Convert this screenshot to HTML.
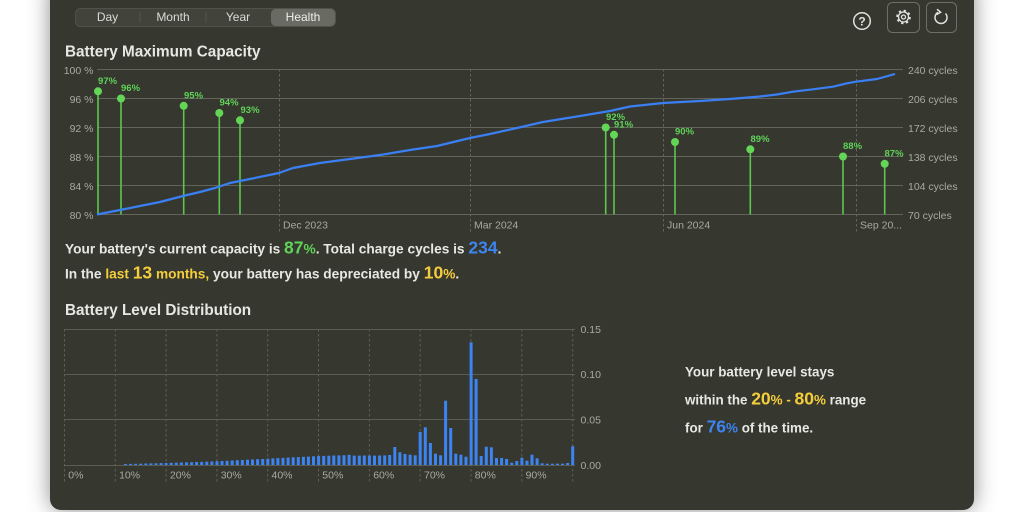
<!DOCTYPE html>
<html><head><meta charset="utf-8">
<style>
html,body{margin:0;padding:0;background:#fff;width:1024px;height:512px;overflow:hidden}
.win{position:absolute;left:50px;top:-20px;width:924px;height:530px;background:#36372e;border-radius:11px;box-shadow:0 0 22px rgba(0,0,0,0.45)}
svg{position:absolute;left:0;top:0}
text{font-family:"Liberation Sans",Arial,sans-serif}
</style></head><body>
<div class="win"></div>
<svg width="1024" height="512" viewBox="0 0 1024 512" xmlns="http://www.w3.org/2000/svg">
<!-- segmented control -->
<rect x="75.5" y="8.5" width="260" height="18" rx="5" fill="#42433a" stroke="#505148"/>
<line x1="140" y1="12" x2="140" y2="23" stroke="#55564d"/>
<line x1="206" y1="12" x2="206" y2="23" stroke="#55564d"/>
<rect x="271" y="9" width="64" height="17" rx="4.5" fill="#696a62"/>
<g font-size="12" fill="#dcdcd6" text-anchor="middle">
<text x="107.5" y="21">Day</text>
<text x="173" y="21">Month</text>
<text x="238" y="21">Year</text>
<text x="303" y="21" fill="#eeeeea">Health</text>
</g>
<!-- icons -->
<circle cx="862" cy="21" r="8.3" fill="none" stroke="#e2e2dc" stroke-width="1.5"/>
<text x="862" y="25.5" font-size="12" font-weight="bold" fill="#e2e2dc" text-anchor="middle">?</text>
<rect x="887.5" y="2.5" width="32" height="30" rx="5" fill="none" stroke="#6e6f66"/>
<rect x="926.5" y="2.5" width="30" height="30" rx="5" fill="none" stroke="#6e6f66"/>
<circle cx="903.5" cy="17" r="6" fill="none" stroke="#e2e2dc" stroke-width="2.6" stroke-dasharray="2.2 2.5"/>
<circle cx="903.5" cy="17" r="5" fill="none" stroke="#e2e2dc" stroke-width="1.3"/>
<circle cx="903.5" cy="17" r="2" fill="none" stroke="#e2e2dc" stroke-width="1.3"/>
<path d="M945.5 13.5 A6 6 0 1 1 938 12.3" fill="none" stroke="#e2e2dc" stroke-width="1.5"/>
<path d="M937 9.2 L940.6 12.3 L936.6 14.6" fill="none" stroke="#e2e2dc" stroke-width="1.5"/>

<!-- Title 1 -->
<text x="65" y="56.5" font-size="15.3" font-weight="bold" fill="#e8e8e3">Battery Maximum Capacity</text>

<!-- top chart grid -->
<g stroke="#62635a" stroke-width="1">
<line x1="97" y1="69.5" x2="903" y2="69.5"/>
<line x1="97" y1="98.5" x2="903" y2="98.5"/>
<line x1="97" y1="127.5" x2="903" y2="127.5"/>
<line x1="97" y1="156.5" x2="903" y2="156.5"/>
<line x1="97" y1="185.5" x2="903" y2="185.5"/>
<line x1="97" y1="214.5" x2="903" y2="214.5"/>
</g>
<g stroke="#64655c" stroke-width="1" stroke-dasharray="2.5 2.5">
<line x1="279.5" y1="69" x2="279.5" y2="232"/>
<line x1="470.5" y1="69" x2="470.5" y2="232"/>
<line x1="663.5" y1="69" x2="663.5" y2="232"/>
<line x1="856.5" y1="69" x2="856.5" y2="232"/>
</g>
<g font-size="10.5" fill="#a9aaa1" text-anchor="end">
<text x="93.5" y="74">100 %</text>
<text x="93.5" y="103">96 %</text>
<text x="93.5" y="132">92 %</text>
<text x="93.5" y="161">88 %</text>
<text x="93.5" y="190">84 %</text>
<text x="93.5" y="219">80 %</text>
</g>
<g font-size="10.5" fill="#a9aaa1">
<text x="908" y="74">240 cycles</text>
<text x="908" y="103">206 cycles</text>
<text x="908" y="132">172 cycles</text>
<text x="908" y="161">138 cycles</text>
<text x="908" y="190">104 cycles</text>
<text x="908" y="219">70 cycles</text>
<text x="283" y="228.5">Dec 2023</text>
<text x="474" y="228.5">Mar 2024</text>
<text x="667" y="228.5">Jun 2024</text>
<text x="860" y="228.5">Sep 20...</text>
</g>

<!-- green stems -->
<g stroke="#5cc650" stroke-width="1.6">
<line x1="98" y1="91.3" x2="98" y2="214.5"/>
<line x1="121" y1="98.5" x2="121" y2="214.5"/>
<line x1="183.7" y1="105.8" x2="183.7" y2="214.5"/>
<line x1="219.3" y1="113" x2="219.3" y2="214.5"/>
<line x1="240" y1="120.3" x2="240" y2="214.5"/>
<line x1="605.7" y1="127.5" x2="605.7" y2="214.5"/>
<line x1="614" y1="134.8" x2="614" y2="214.5"/>
<line x1="675" y1="142" x2="675" y2="214.5"/>
<line x1="750.3" y1="149.3" x2="750.3" y2="214.5"/>
<line x1="843" y1="156.5" x2="843" y2="214.5"/>
<line x1="884.7" y1="163.8" x2="884.7" y2="214.5"/>
</g>

<!-- blue line -->
<polyline fill="none" stroke="#3a80f4" stroke-width="2.2" stroke-linejoin="round" points="97,214.5 120,210 140,206 160,202 183,196 200,192 215,188 230,183 250,179 279,173 293,168 320,163 350,159 380,155 410,150 437,146 470,138 490,134 517,128 543,122 580,116 610,111 630,106.5 663,103 700,101 730,99 760,96.5 777,94.5 793,91.7 813,89.3 833,86.7 847,83.3 856,81.7 877,79 895,74"/>

<g fill="#64d657">
<circle cx="98" cy="91.3" r="4"/>
<circle cx="121" cy="98.5" r="4"/>
<circle cx="183.7" cy="105.8" r="4"/>
<circle cx="219.3" cy="113" r="4"/>
<circle cx="240" cy="120.3" r="4"/>
<circle cx="605.7" cy="127.5" r="4"/>
<circle cx="614" cy="134.8" r="4"/>
<circle cx="675" cy="142" r="4"/>
<circle cx="750.3" cy="149.3" r="4"/>
<circle cx="843" cy="156.5" r="4"/>
<circle cx="884.7" cy="163.8" r="4"/>
</g>
<g font-size="9.5" font-weight="bold" fill="#5fd35a">
<text x="98" y="84">97%</text>
<text x="121" y="91">96%</text>
<text x="184" y="98.5">95%</text>
<text x="219.5" y="105.5">94%</text>
<text x="240.5" y="113">93%</text>
<text x="606" y="120">92%</text>
<text x="614" y="127.5">91%</text>
<text x="675" y="134.5">90%</text>
<text x="750.5" y="142">89%</text>
<text x="843" y="149">88%</text>
<text x="884.5" y="156.5">87%</text>
</g>

<!-- summary text -->
<g font-size="13.7" font-weight="bold" fill="#e8e8e3">
<text x="65" y="253.5">Your battery's current capacity is <tspan fill="#5fd35a" font-size="17.5">87</tspan><tspan fill="#5fd35a">%</tspan>. Total charge cycles is <tspan fill="#3d85f2" font-size="17.5">234</tspan>.</text>
<text x="65" y="278.5">In the <tspan fill="#f4cd3c">last </tspan><tspan fill="#f4cd3c" font-size="17.5">13</tspan><tspan fill="#f4cd3c"> months,</tspan> your battery has depreciated by <tspan fill="#f4cd3c" font-size="17.5">10</tspan><tspan fill="#f4cd3c">%</tspan>.</text>
</g>
<text x="65" y="315" font-size="15.3" font-weight="bold" fill="#e8e8e3">Battery Level Distribution</text>

<!-- bottom chart grid -->
<g stroke="#5b5c53" stroke-width="1">
<line x1="64" y1="329.5" x2="575" y2="329.5"/>
<line x1="64" y1="374.5" x2="575" y2="374.5"/>
<line x1="64" y1="419.5" x2="575" y2="419.5"/>
<line x1="64" y1="465.5" x2="575" y2="465.5"/>
</g>
<g stroke="#5f6057" stroke-width="1" stroke-dasharray="2.5 2.5">
<line x1="64.5" y1="329" x2="64.5" y2="482"/>
<line x1="115.3" y1="329" x2="115.3" y2="482"/>
<line x1="166.1" y1="329" x2="166.1" y2="482"/>
<line x1="216.9" y1="329" x2="216.9" y2="482"/>
<line x1="267.7" y1="329" x2="267.7" y2="482"/>
<line x1="318.5" y1="329" x2="318.5" y2="482"/>
<line x1="369.4" y1="329" x2="369.4" y2="482"/>
<line x1="420.2" y1="329" x2="420.2" y2="482"/>
<line x1="471" y1="329" x2="471" y2="482"/>
<line x1="521.8" y1="329" x2="521.8" y2="482"/>
<line x1="572.7" y1="329" x2="572.7" y2="482"/>
</g>
<g font-size="10.5" fill="#a9aaa1">
<text x="580.5" y="333">0.15</text>
<text x="580.5" y="378">0.10</text>
<text x="580.5" y="423.5">0.05</text>
<text x="580.5" y="469">0.00</text>
<text x="68.3" y="478.5">0%</text>
<text x="119.1" y="478.5">10%</text>
<text x="169.9" y="478.5">20%</text>
<text x="220.7" y="478.5">30%</text>
<text x="271.5" y="478.5">40%</text>
<text x="322.3" y="478.5">50%</text>
<text x="373.2" y="478.5">60%</text>
<text x="424" y="478.5">70%</text>
<text x="474.8" y="478.5">80%</text>
<text x="525.6" y="478.5">90%</text>
</g>

<!-- bars -->
<g fill="#3d84f3">
<rect x="124.0" y="464.0" width="3" height="1.0"/>
<rect x="129.1" y="463.9" width="3" height="1.1"/>
<rect x="134.1" y="463.8" width="3" height="1.2"/>
<rect x="139.2" y="463.7" width="3" height="1.3"/>
<rect x="144.3" y="463.5" width="3" height="1.5"/>
<rect x="149.4" y="463.4" width="3" height="1.6"/>
<rect x="154.5" y="463.3" width="3" height="1.7"/>
<rect x="159.6" y="463.1" width="3" height="1.9"/>
<rect x="164.6" y="463.0" width="3" height="2.0"/>
<rect x="169.7" y="462.8" width="3" height="2.2"/>
<rect x="174.8" y="462.7" width="3" height="2.3"/>
<rect x="179.9" y="462.5" width="3" height="2.5"/>
<rect x="185.0" y="462.4" width="3" height="2.6"/>
<rect x="190.1" y="462.2" width="3" height="2.8"/>
<rect x="195.1" y="462.0" width="3" height="3.0"/>
<rect x="200.2" y="461.9" width="3" height="3.1"/>
<rect x="205.3" y="461.7" width="3" height="3.3"/>
<rect x="210.4" y="461.5" width="3" height="3.5"/>
<rect x="215.5" y="461.3" width="3" height="3.7"/>
<rect x="220.5" y="461.0" width="3" height="4.0"/>
<rect x="225.6" y="460.8" width="3" height="4.2"/>
<rect x="230.7" y="460.5" width="3" height="4.5"/>
<rect x="235.8" y="460.2" width="3" height="4.8"/>
<rect x="240.9" y="460.0" width="3" height="5.0"/>
<rect x="246.0" y="459.7" width="3" height="5.3"/>
<rect x="251.0" y="459.5" width="3" height="5.5"/>
<rect x="256.1" y="459.2" width="3" height="5.8"/>
<rect x="261.2" y="459.0" width="3" height="6.0"/>
<rect x="266.3" y="458.7" width="3" height="6.3"/>
<rect x="271.4" y="458.4" width="3" height="6.6"/>
<rect x="276.4" y="458.1" width="3" height="6.9"/>
<rect x="281.5" y="457.9" width="3" height="7.1"/>
<rect x="286.6" y="457.6" width="3" height="7.4"/>
<rect x="291.7" y="457.3" width="3" height="7.7"/>
<rect x="296.8" y="457.1" width="3" height="7.9"/>
<rect x="301.9" y="456.8" width="3" height="8.2"/>
<rect x="306.9" y="456.6" width="3" height="8.4"/>
<rect x="312.0" y="456.3" width="3" height="8.7"/>
<rect x="317.1" y="456.0" width="3" height="9.0"/>
<rect x="322.2" y="455.9" width="3" height="9.1"/>
<rect x="327.3" y="455.7" width="3" height="9.3"/>
<rect x="332.3" y="455.5" width="3" height="9.5"/>
<rect x="337.4" y="455.4" width="3" height="9.6"/>
<rect x="342.5" y="455.2" width="3" height="9.8"/>
<rect x="347.6" y="454.8" width="3" height="10.2"/>
<rect x="352.7" y="455.6" width="3" height="9.4"/>
<rect x="357.8" y="455.6" width="3" height="9.4"/>
<rect x="362.8" y="455.5" width="3" height="9.5"/>
<rect x="367.9" y="455.5" width="3" height="9.5"/>
<rect x="373.0" y="455.6" width="3" height="9.4"/>
<rect x="378.1" y="455.5" width="3" height="9.5"/>
<rect x="383.2" y="455.4" width="3" height="9.6"/>
<rect x="388.2" y="455.0" width="3" height="10.0"/>
<rect x="393.3" y="447.0" width="3" height="18.0"/>
<rect x="398.4" y="452.3" width="3" height="12.7"/>
<rect x="403.5" y="454.0" width="3" height="11.0"/>
<rect x="408.6" y="454.7" width="3" height="10.3"/>
<rect x="413.7" y="455.3" width="3" height="9.7"/>
<rect x="418.7" y="432.0" width="3" height="33.0"/>
<rect x="423.8" y="427.3" width="3" height="37.7"/>
<rect x="428.9" y="443.0" width="3" height="22.0"/>
<rect x="434.0" y="453.7" width="3" height="11.3"/>
<rect x="439.1" y="455.3" width="3" height="9.7"/>
<rect x="444.1" y="400.7" width="3" height="64.3"/>
<rect x="449.2" y="428.0" width="3" height="37.0"/>
<rect x="454.3" y="453.7" width="3" height="11.3"/>
<rect x="459.4" y="454.7" width="3" height="10.3"/>
<rect x="464.5" y="456.7" width="3" height="8.3"/>
<rect x="469.6" y="342.3" width="3" height="122.7"/>
<rect x="474.6" y="379.0" width="3" height="86.0"/>
<rect x="479.7" y="456.0" width="3" height="9.0"/>
<rect x="484.8" y="446.7" width="3" height="18.3"/>
<rect x="489.9" y="447.3" width="3" height="17.7"/>
<rect x="495.0" y="458.0" width="3" height="7.0"/>
<rect x="500.1" y="458.0" width="3" height="7.0"/>
<rect x="505.1" y="459.0" width="3" height="6.0"/>
<rect x="510.2" y="462.7" width="3" height="2.3"/>
<rect x="515.3" y="461.0" width="3" height="4.0"/>
<rect x="520.4" y="457.7" width="3" height="7.3"/>
<rect x="525.5" y="460.7" width="3" height="4.3"/>
<rect x="530.5" y="454.7" width="3" height="10.3"/>
<rect x="535.6" y="458.3" width="3" height="6.7"/>
<rect x="540.7" y="463.3" width="3" height="1.7"/>
<rect x="545.8" y="463.7" width="3" height="1.3"/>
<rect x="550.9" y="463.7" width="3" height="1.3"/>
<rect x="556.0" y="463.7" width="3" height="1.3"/>
<rect x="561.0" y="463.7" width="3" height="1.3"/>
<rect x="566.1" y="463.0" width="3" height="2.0"/>
<rect x="571.2" y="446.3" width="3" height="18.7"/>
</g>

<!-- right text -->
<g font-size="13.4" font-weight="bold" fill="#e8e8e3">
<text x="685" y="376.5">Your battery level stays</text>
<text x="685" y="404.5">within the <tspan fill="#f4cd3c" font-size="17.5">20</tspan><tspan fill="#f4cd3c">%</tspan><tspan fill="#f4cd3c"> - </tspan><tspan fill="#f4cd3c" font-size="17.5">80</tspan><tspan fill="#f4cd3c">%</tspan> range</text>
<text x="685" y="432.5">for <tspan fill="#3d85f2" font-size="17.5">76</tspan><tspan fill="#3d85f2">%</tspan> of the time.</text>
</g>
</svg>
</body></html>
